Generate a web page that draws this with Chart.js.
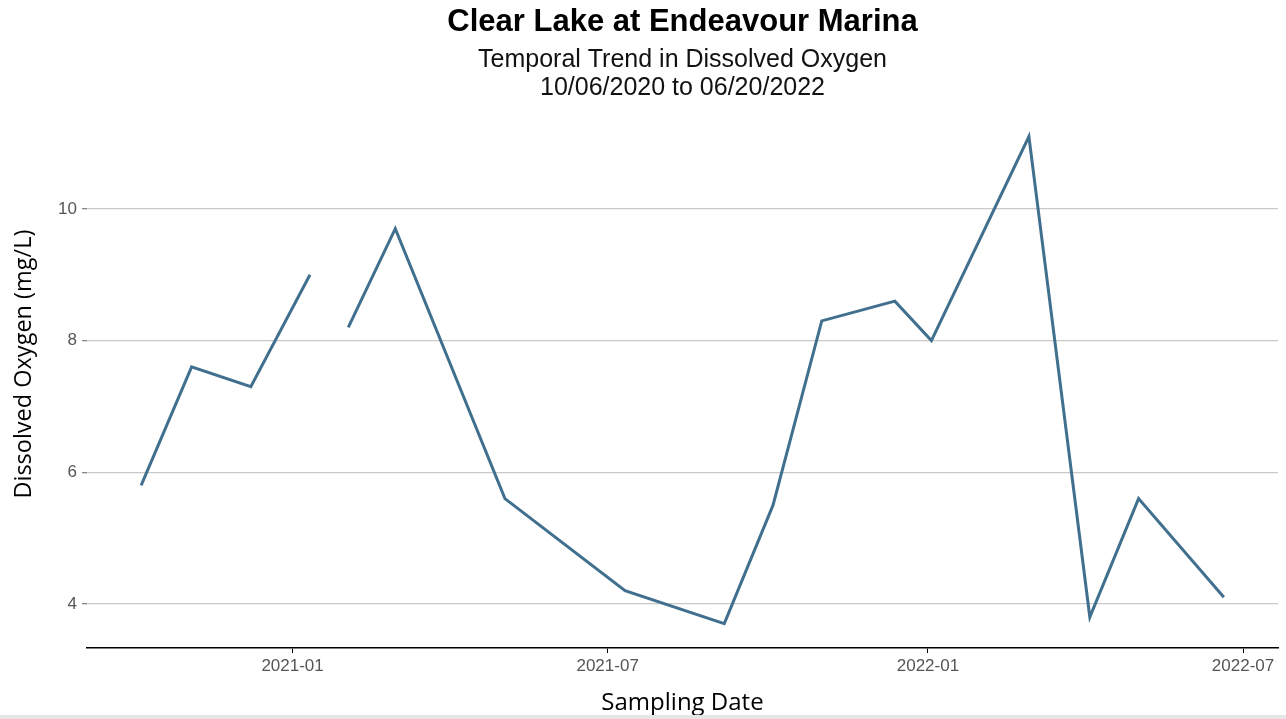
<!DOCTYPE html>
<html>
<head>
<meta charset="utf-8">
<script src="https://cdn.jsdelivr.net/npm/chart.js@4/dist/chart.umd.min.js"></script>
<style>
  html, body { margin: 0; padding: 0; background: #fff; }
  #wrap { width: 1286px; height: 715px; border-bottom: 4px solid #e6e6e6; }
</style>
</head>
<body>
<div id="wrap"><canvas id="chart" width="1286" height="715"></canvas></div>
<script>
// sampling dates and dissolved oxygen readings (mg/L); null = missing sample
const sampleDates = [
    '2020-10-06', '2020-11-04', '2020-12-08', '2021-01-11', '2021-01-22',
    '2021-02-02', '2021-03-01', '2021-05-03', '2021-07-11', '2021-09-06',
    '2021-10-04', '2021-11-01', '2021-12-13', '2022-01-03', '2022-02-28',
    '2022-04-04', '2022-05-02', '2022-06-20'
];
const oxygenValues = [
    5.8, 7.6, 7.3, 9.0, null,
    8.2, 9.7, 5.6, 4.2, 3.7,
    5.5, 8.3, 8.6, 8.0, 11.1,
    3.8, 5.6, 4.1
];
const xTickDates = ['2021-01-01', '2021-07-01', '2022-01-01', '2022-07-01'];
const yTickValues = [4, 6, 8, 10];
const yAxisTitle = 'Dissolved Oxygen (mg/L)';

const toMs = d => Date.UTC(+d.slice(0, 4), +d.slice(5, 7) - 1, +d.slice(8, 10));
const points = sampleDates.map((d, i) => ({ x: toMs(d), y: oxygenValues[i] }));

// ggplot-style 5% expansion around the data
function expand(vals) {
    const lo = Math.min(...vals), hi = Math.max(...vals);
    const pad = (hi - lo) * 0.05;
    return [lo - pad, hi + pad];
}
const [xMin, xMax] = expand(points.map(p => p.x));
const [yMin, yMax] = expand(oxygenValues.filter(v => v !== null));

const tickFont = { family: 'Liberation Sans, Arial, sans-serif', size: 17 };

// y title sits a bit above the plot centre in the original, so draw it by hand
const yTitlePlugin = {
    id: 'yTitle',
    afterDraw(chart) {
        const ctx = chart.ctx;
        ctx.save();
        ctx.translate(24, chart.chartArea.top + (chart.chartArea.bottom - chart.chartArea.top) / 2 - 16);
        ctx.rotate(-Math.PI / 2);
        ctx.font = '23.5px "Open Sans", sans-serif';
        ctx.fillStyle = '#000';
        ctx.textAlign = 'center';
        ctx.textBaseline = 'middle';
        ctx.fillText(yAxisTitle, 0, 0);
        ctx.restore();
    }
};

new Chart(document.getElementById('chart').getContext('2d'), {
    type: 'line',
    data: {
        datasets: [{
            data: points,
            borderColor: '#41708f',
            borderWidth: 3,
            pointRadius: 0,
            tension: 0,
            spanGaps: false
        }]
    },
    options: {
        responsive: false,
        animation: false,
        layout: { padding: { left: 0, right: 8, top: 0, bottom: 0 } },
        plugins: {
            legend: { display: false },
            tooltip: { enabled: false },
            title: {
                display: true,
                text: 'Clear Lake at Endeavour Marina',
                fullSize: false,
                color: '#000',
                font: { family: 'Liberation Sans, Arial, sans-serif', size: 31, weight: 'bold', lineHeight: 1.2 },
                padding: { top: 4, bottom: 5 }
            },
            subtitle: {
                display: true,
                text: ['Temporal Trend in Dissolved Oxygen', '10/06/2020 to 06/20/2022'],
                fullSize: false,
                color: '#111',
                font: { family: 'Liberation Sans, Arial, sans-serif', size: 25, lineHeight: 1.12 },
                padding: { top: 0, bottom: 10 }
            }
        },
        scales: {
            x: {
                type: 'linear',
                min: xMin,
                max: xMax,
                afterBuildTicks: s => { s.ticks = xTickDates.map(d => ({ value: toMs(d) })); },
                afterFit: s => { s.height = 67; },
                border: { display: true, color: '#000', width: 1.5 },
                grid: { drawOnChartArea: false, drawTicks: true, tickLength: 5, tickColor: '#000' },
                ticks: {
                    color: '#555',
                    font: tickFont,
                    padding: 3,
                    maxRotation: 0,
                    callback: v => {
                        const d = new Date(v);
                        return d.getUTCFullYear() + '-' + String(d.getUTCMonth() + 1).padStart(2, '0');
                    }
                },
                title: {
                    display: true,
                    text: 'Sampling Date',
                    color: '#000',
                    font: { family: 'Open Sans, sans-serif', size: 24, lineHeight: 1 },
                    padding: { top: 0, bottom: 0 }
                }
            },
            y: {
                min: yMin,
                max: yMax,
                afterBuildTicks: s => { s.ticks = yTickValues.map(v => ({ value: v })); },
                afterFit: s => { s.width = 87; },
                border: { display: false },
                grid: { color: '#c9c9c9', lineWidth: 1.3, drawTicks: true, tickLength: 5, tickColor: '#888' },
                ticks: { color: '#555', font: tickFont, padding: 5 },
                title: { display: false }
            }
        }
    },
    plugins: [yTitlePlugin]
});
</script>
</body>
</html>
